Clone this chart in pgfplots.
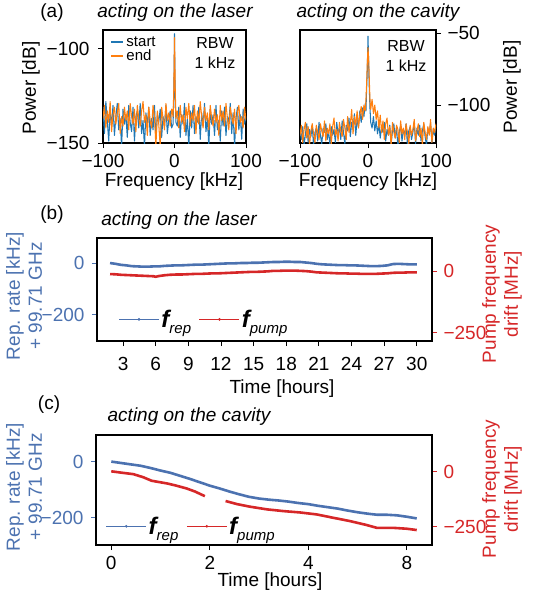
\documentclass[border=0pt]{standalone}
\usepackage{fontspec}
\setmainfont{Liberation Sans}
\usepackage{pgfplots}
\pgfplotsset{compat=1.18}
\definecolor{tabblue}{HTML}{1F77B4}
\definecolor{taborange}{HTML}{FF7F0E}
\definecolor{repblue}{HTML}{4C72B0}
\definecolor{pumpred}{HTML}{D62728}
\newcommand{\fs}{\fontsize{19}{22}\selectfont}
\newcommand{\frep}{{\fontsize{24}{24}\selectfont\bfseries\itshape f}\raisebox{-6pt}{\fontsize{15}{16}\selectfont\itshape rep}}
\newcommand{\fpump}{{\fontsize{24}{24}\selectfont\bfseries\itshape f}\raisebox{-6pt}{\fontsize{15}{16}\selectfont\itshape pump}}
\pgfplotsset{
  base/.style={scale only axis, anchor=south west, font=\fs, tick align=outside,
    /pgf/number format/assume math mode=true,
    major tick length=5pt, every tick/.style={line width=0.9pt},
    axis line style={line width=1.1pt}, xtick pos=bottom,
    tick label style={font=\fs}},
  spec/.style={line width=1.05pt, line join=round},
  drift/.style={line width=2.6pt, line join=round},
}
\begin{document}
\begin{tikzpicture}
\useasboundingbox (0pt,0pt) rectangle (540pt,-600pt);
% ---------------- (a) left
\begin{axis}[base, at={(103pt,-143pt)}, width=143pt, height=113pt,
  xmin=-100, xmax=100, ymin=-150, ymax=-90,
  xtick={-100,0,100}, xticklabels={−100,0,100},
  ytick={-150,-100}, yticklabels={−150,−100}, ytick pos=left,
  xticklabel style={yshift=-3pt}, yticklabel style={xshift=-5pt},
  legend style={draw=none, fill=none, font=\fontsize{15}{17}\selectfont, at={(0.03,0.98)}, anchor=north west, row sep=-2pt},
  legend cell align=left,
  legend image code/.code={\draw[line width=2pt] (0pt,0pt) -- (12pt,0pt);}]
\addplot[spec, tabblue] coordinates {
(-100,-131)(-98,-145)(-96,-128)(-94,-138)(-92,-149)(-90,-133)(-88,-141)(-86,-130)(-84,-146)(-82,-136)
(-80,-129)(-78,-143)(-76,-137)(-74,-152)(-72,-132)(-70,-140)(-68,-135)(-66,-147)(-64,-130)(-62,-139)
(-60,-144)(-58,-131)(-56,-149)(-54,-136)(-52,-133)(-50,-142)(-48,-129)(-46,-145)(-44,-138)(-42,-152)
(-40,-134)(-38,-140)(-36,-131)(-34,-146)(-32,-137)(-30,-143)(-28,-130)(-26,-148)(-24,-135)(-22,-139)
(-20,-132)(-18,-147)(-16,-136)(-14,-141)(-12,-130)(-10,-145)(-8,-138)(-6,-133)(-4,-142)(-2,-140)
(-1,-125)(-0.5,-110)(0,-92)(0.5,-112)(1,-126)(2,-139)(4,-141)(6,-131)(8,-147)(10,-135)
(12,-140)(14,-129)(16,-146)(18,-137)(20,-152)(22,-133)(24,-142)(26,-130)(28,-145)(30,-136)
(32,-139)(34,-131)(36,-148)(38,-134)(40,-141)(42,-129)(44,-144)(46,-137)(48,-152)(50,-132)
(52,-140)(54,-135)(56,-146)(58,-130)(60,-143)(62,-138)(64,-149)(66,-133)(68,-141)(70,-131)
(72,-146)(74,-136)(76,-139)(78,-129)(80,-145)(82,-134)(84,-152)(86,-137)(88,-131)(90,-143)
(92,-135)(94,-148)(96,-132)(98,-140)(100,-136)};
\addlegendentry{start}
\addplot[spec, taborange] coordinates {
(-100,-137)(-98,-130)(-96,-142)(-94,-133)(-92,-139)(-90,-128)(-88,-144)(-86,-135)(-84,-131)(-82,-140)
(-80,-134)(-78,-129)(-76,-145)(-74,-136)(-72,-141)(-70,-131)(-68,-138)(-66,-133)(-64,-143)(-62,-129)
(-60,-136)(-58,-140)(-56,-132)(-54,-144)(-52,-130)(-50,-137)(-48,-141)(-46,-133)(-44,-128)(-42,-139)
(-40,-135)(-38,-146)(-36,-131)(-34,-138)(-32,-142)(-30,-130)(-28,-136)(-26,-152)(-24,-133)(-22,-140)
(-20,-152)(-18,-131)(-16,-137)(-14,-143)(-12,-129)(-10,-138)(-8,-134)(-6,-141)(-4,-132)(-2,-136)
(-1,-122)(-0.5,-108)(0,-94)(0.5,-106)(1,-121)(2,-137)(4,-133)(6,-142)(8,-130)(10,-139)
(12,-135)(14,-144)(16,-131)(18,-137)(20,-129)(22,-141)(24,-134)(26,-138)(28,-130)(30,-145)
(32,-133)(34,-140)(36,-128)(38,-136)(40,-142)(42,-131)(44,-138)(46,-134)(48,-143)(50,-130)
(52,-137)(54,-141)(56,-132)(58,-139)(60,-135)(62,-146)(64,-130)(66,-138)(68,-133)(70,-141)
(72,-129)(74,-137)(76,-143)(78,-131)(80,-136)(82,-140)(84,-132)(86,-145)(88,-134)(90,-130)
(92,-139)(94,-136)(96,-142)(98,-131)(100,-138)};
\addlegendentry{end}
\end{axis}
% ---------------- (a) right
\begin{axis}[base, at={(300pt,-143pt)}, width=136pt, height=113pt,
  xmin=-100, xmax=100, ymin=-126.4, ymax=-47.7,
  xtick={-100,0,100}, xticklabels={−100,0,100}, xticklabel style={yshift=-3pt},
  ytick={-100,-50}, yticklabels={−100,−50}, ytick pos=right, yticklabel pos=right,
  yticklabel style={xshift=3pt}]
\addplot[spec, tabblue] coordinates {
(-100,-118)(-98,-124)(-96,-115)(-94,-128)(-92,-120)(-90,-113)(-88,-126)(-86,-117)(-84,-122)(-82,-114)
(-80,-129)(-78,-119)(-76,-116)(-74,-125)(-72,-112)(-70,-121)(-68,-127)(-66,-116)(-64,-119)(-62,-113)
(-60,-124)(-58,-118)(-56,-128)(-54,-115)(-52,-121)(-50,-117)(-48,-126)(-46,-112)(-44,-120)(-42,-116)
(-40,-124)(-38,-111)(-36,-119)(-34,-127)(-32,-114)(-30,-118)(-28,-109)(-26,-122)(-24,-112)(-22,-117)
(-20,-106)(-18,-121)(-16,-110)(-14,-115)(-12,-104)(-10,-112)(-8,-102)(-6,-108)(-4,-99)(-3,-104)
(-2,-88)(-1,-75)(0,-52)(1,-72)(2,-90)(3,-103)(4,-112)(6,-116)(8,-108)(10,-118)
(12,-111)(14,-120)(16,-113)(18,-123)(20,-115)(22,-119)(24,-112)(26,-125)(28,-117)(30,-121)
(32,-114)(34,-127)(36,-118)(38,-113)(40,-123)(42,-116)(44,-129)(46,-119)(48,-114)(50,-125)
(52,-117)(54,-121)(56,-113)(58,-128)(60,-118)(62,-115)(64,-124)(66,-119)(68,-112)(70,-127)
(72,-116)(74,-121)(76,-114)(78,-125)(80,-118)(82,-113)(84,-122)(86,-128)(88,-116)(90,-120)
(92,-113)(94,-126)(96,-117)(98,-121)(100,-114)};
\addplot[spec, taborange] coordinates {
(-100,-121)(-98,-114)(-96,-126)(-94,-117)(-92,-112)(-90,-123)(-88,-115)(-86,-128)(-84,-118)(-82,-113)
(-80,-120)(-78,-126)(-76,-114)(-74,-119)(-72,-124)(-70,-113)(-68,-118)(-66,-122)(-64,-111)(-62,-125)
(-60,-116)(-58,-120)(-56,-113)(-54,-127)(-52,-115)(-50,-109)(-48,-121)(-46,-117)(-44,-125)(-42,-112)
(-40,-118)(-38,-122)(-36,-110)(-34,-116)(-32,-124)(-30,-108)(-28,-119)(-26,-113)(-24,-103)(-22,-120)
(-20,-108)(-18,-114)(-16,-104)(-14,-116)(-12,-107)(-10,-101)(-8,-110)(-6,-100)(-4,-104)(-3,-96)
(-2,-85)(-1,-70)(0,-60)(1,-68)(2,-84)(3,-97)(4,-103)(6,-96)(8,-106)(10,-100)
(12,-110)(14,-104)(16,-116)(18,-107)(20,-119)(22,-111)(24,-124)(26,-113)(28,-109)(30,-121)
(32,-115)(34,-128)(36,-112)(38,-119)(40,-123)(42,-114)(44,-117)(46,-126)(48,-111)(50,-120)
(52,-116)(54,-124)(56,-113)(58,-119)(60,-127)(62,-114)(64,-121)(66,-117)(68,-110)(70,-125)
(72,-118)(74,-113)(76,-122)(78,-116)(80,-128)(82,-112)(84,-119)(86,-124)(88,-115)(90,-121)
(92,-110)(94,-126)(96,-116)(98,-119)(100,-113)};
\end{axis}
% ---------------- (b)
\begin{axis}[base, at={(97pt,-341pt)}, width=335pt, height=103pt,
  xmin=0.6, xmax=31.4, ymin=-302, ymax=97,
  xtick={3,6,...,30}, ytick={-200,0}, yticklabels={−200,0}, ytick pos=left,
  xticklabel style={yshift=-8pt}, yticklabel style={xshift=-4pt},
  y tick label style={text=repblue}, ytick style={draw=repblue}]
\addplot[drift, repblue] coordinates {
(1.8,0)(2.3,-3)(2.8,-7)(3.3,-9)(3.8,-12)(4.3,-13)(4.8,-14)(5.3,-14)(5.8,-13)(6.3,-13)
(6.8,-11)(7.3,-10)(7.8,-9)(8.3,-9)(8.8,-8)(9.3,-7)(9.8,-6)(10.3,-6)(10.8,-5)(11.3,-4)
(11.8,-3)(12.3,-2)(12.8,-1)(13.3,-1)(13.8,0)(14.3,0)(14.8,1)(15.3,1)(15.8,2)(16.3,3)
(16.8,4)(17.3,4)(17.8,5)(18.3,5)(18.8,4)(19.3,4)(19.8,2)(20.3,0)(20.8,-3)(21.3,-5)
(21.8,-6)(22.3,-7)(22.8,-8)(23.3,-8)(23.8,-9)(24.3,-9)(24.8,-10)(25.3,-11)(25.8,-12)(26.3,-12)
(26.8,-11)(27.3,-9)(27.8,-4)(28.3,-3)(28.8,-4)(29.3,-5)(29.8,-5)(30.0,-5)};
\end{axis}
\begin{axis}[base, at={(97pt,-341pt)}, width=335pt, height=103pt,
  xmin=0.6, xmax=31.4, ymin=-284, ymax=136,
  axis x line=none, axis y line*=right, axis line style={line width=1.1pt, black},
  ytick={-250,0}, yticklabels={−250,0}, yticklabel style={xshift=3pt},
  y tick label style={text=pumpred}, ytick style={draw=pumpred},
  legend style={draw=none, fill=none, at={(0.055,0.21)}, anchor=west, legend columns=2,
    /tikz/every even column/.append style={column sep=6pt}},
  legend cell align=left,
  legend image code/.code={\draw[mark repeat=2,mark phase=2] plot coordinates {(0pt,0pt)(20pt,0pt)(40pt,0pt)};}]
\addlegendimage{repblue, line width=0.8pt, mark=*, mark size=0.9pt}
\addlegendentry{\frep}
\addlegendimage{pumpred, line width=0.8pt, mark=*, mark size=0.9pt}
\addlegendentry{\fpump}
\addplot[drift, pumpred, forget plot] coordinates {
(1.8,-11)(2.3,-12)(2.8,-14)(3.3,-15)(3.8,-16)(4.3,-17)(4.8,-18)(5.3,-19)(5.8,-20)(6.0,-22)(6.3,-19)
(6.8,-16)(7.3,-14)(7.8,-13)(8.3,-13)(8.8,-12)(9.3,-11)(9.8,-10)(10.3,-10)(10.8,-9)(11.3,-8)
(11.8,-8)(12.3,-7)(12.8,-6)(13.3,-5)(13.8,-4)(14.3,-3)(14.8,-2)(15.3,-2)(15.8,-1)(16.3,0)
(16.8,2)(17.3,2)(17.8,3)(18.3,3)(18.8,3)(19.3,2)(19.8,1)(20.3,-1)(20.8,-4)(21.3,-5)
(21.8,-6)(22.3,-7)(22.8,-8)(23.3,-8)(23.8,-9)(24.3,-9)(24.8,-10)(25.3,-10)(25.8,-10)(26.3,-10)
(26.8,-9)(27.3,-8)(27.8,-6)(28.3,-5)(28.8,-5)(29.3,-4)(29.8,-4)(30.0,-4)};
\end{axis}
% ---------------- (c)
\begin{axis}[base, at={(96pt,-545pt)}, width=336pt, height=110pt,
  xmin=-0.31, xmax=6.51, ymin=-298, ymax=95,
  xtick={0,2,4,6}, xticklabels={0,2,4,8}, ytick={-200,0}, yticklabels={−200,0}, ytick pos=left,
  xticklabel style={yshift=-3pt}, yticklabel style={xshift=-4pt},
  y tick label style={text=repblue}, ytick style={draw=repblue}]
\addplot[drift, repblue] coordinates {
(0,0)(0.2,-5)(0.4,-10)(0.6,-15)(0.8,-23)(1.0,-32)(1.2,-40)(1.4,-51)(1.6,-62)(1.8,-74)
(2.0,-86)(2.2,-96)(2.4,-107)(2.6,-117)(2.8,-126)(3.0,-132)(3.2,-136)(3.4,-139)(3.6,-143)(3.8,-148)
(4.0,-152)(4.2,-158)(4.4,-163)(4.6,-168)(4.8,-175)(5.0,-181)(5.2,-186)(5.4,-190)(5.6,-190)(5.8,-192)
(6.0,-197)(6.2,-203)};
\end{axis}
\begin{axis}[base, at={(96pt,-545pt)}, width=336pt, height=110pt,
  xmin=-0.31, xmax=6.51, ymin=-333, ymax=167,
  axis x line=none, axis y line*=right, axis line style={line width=1.1pt, black},
  ytick={-250,0}, yticklabels={−250,0}, yticklabel style={xshift=3pt},
  y tick label style={text=pumpred}, ytick style={draw=pumpred},
  legend style={draw=none, fill=none, at={(0.02,0.17)}, anchor=west, legend columns=2,
    /tikz/every even column/.append style={column sep=6pt}},
  legend cell align=left,
  legend image code/.code={\draw[mark repeat=2,mark phase=2] plot coordinates {(0pt,0pt)(20pt,0pt)(40pt,0pt)};}]
\addlegendimage{repblue, line width=0.8pt, mark=*, mark size=0.9pt}
\addlegendentry{\frep}
\addlegendimage{pumpred, line width=0.8pt, mark=*, mark size=0.9pt}
\addlegendentry{\fpump}
\addplot[drift, pumpred, forget plot] coordinates {
(0,2)(0.2,-4)(0.45,-11)(0.65,-25)(0.82,-41)(1.0,-48)(1.13,-53)(1.3,-62)(1.53,-76)(1.7,-90)(1.9,-111)};
\addplot[drift, pumpred, forget plot] coordinates {
(2.32,-133)(2.55,-147)(2.82,-159)(3.16,-171)(3.5,-179)(3.83,-185)(4.17,-194)(4.5,-209)(4.84,-224)
(5.18,-242)(5.39,-255)(5.72,-255)(6.0,-259)(6.2,-265)};
\end{axis}
% ---------------- texts
\node at (52pt,-13pt) {\fs (a)};
\node at (175pt,-13pt) {\fs\itshape acting on the laser};
\node at (378pt,-13pt) {\fs\itshape acting on the cavity};
\node[rotate=90] at (31pt,-88pt) {\fs Power [dB]};
\node[rotate=90] at (512pt,-87pt) {\fs Power [dB]};
\node at (174pt,-182pt) {\fs Frequency [kHz]};
\node at (368pt,-182pt) {\fs Frequency [kHz]};
\node[align=center, font=\fontsize{16}{20}\selectfont] at (215pt,-53pt) {RBW\\1 kHz};
\node[align=center, font=\fontsize{16}{20}\selectfont] at (406pt,-56pt) {RBW\\1 kHz};
\node at (52pt,-215pt) {\fs (b)};
\node at (179pt,-221pt) {\fs\itshape acting on the laser};
\node[rotate=90, align=center, text=repblue, font=\fs] at (24pt,-296pt) {Rep. rate [kHz]\\+ 99.71 GHz};
\node[rotate=90, align=center, text=pumpred, font=\fs] at (502pt,-294pt) {Pump frequency\\drift [MHz]};
\node at (282pt,-389pt) {\fs Time [hours]};
\node at (49pt,-405pt) {\fs (c)};
\node at (189pt,-417pt) {\fs\itshape acting on the cavity};
\node[rotate=90, align=center, text=repblue, font=\fs] at (24pt,-487pt) {Rep. rate [kHz]\\+ 99.71 GHz};
\node[rotate=90, align=center, text=pumpred, font=\fs] at (502pt,-489pt) {Pump frequency\\drift [MHz]};
\node at (270pt,-582pt) {\fs Time [hours]};
\end{tikzpicture}
\end{document}
